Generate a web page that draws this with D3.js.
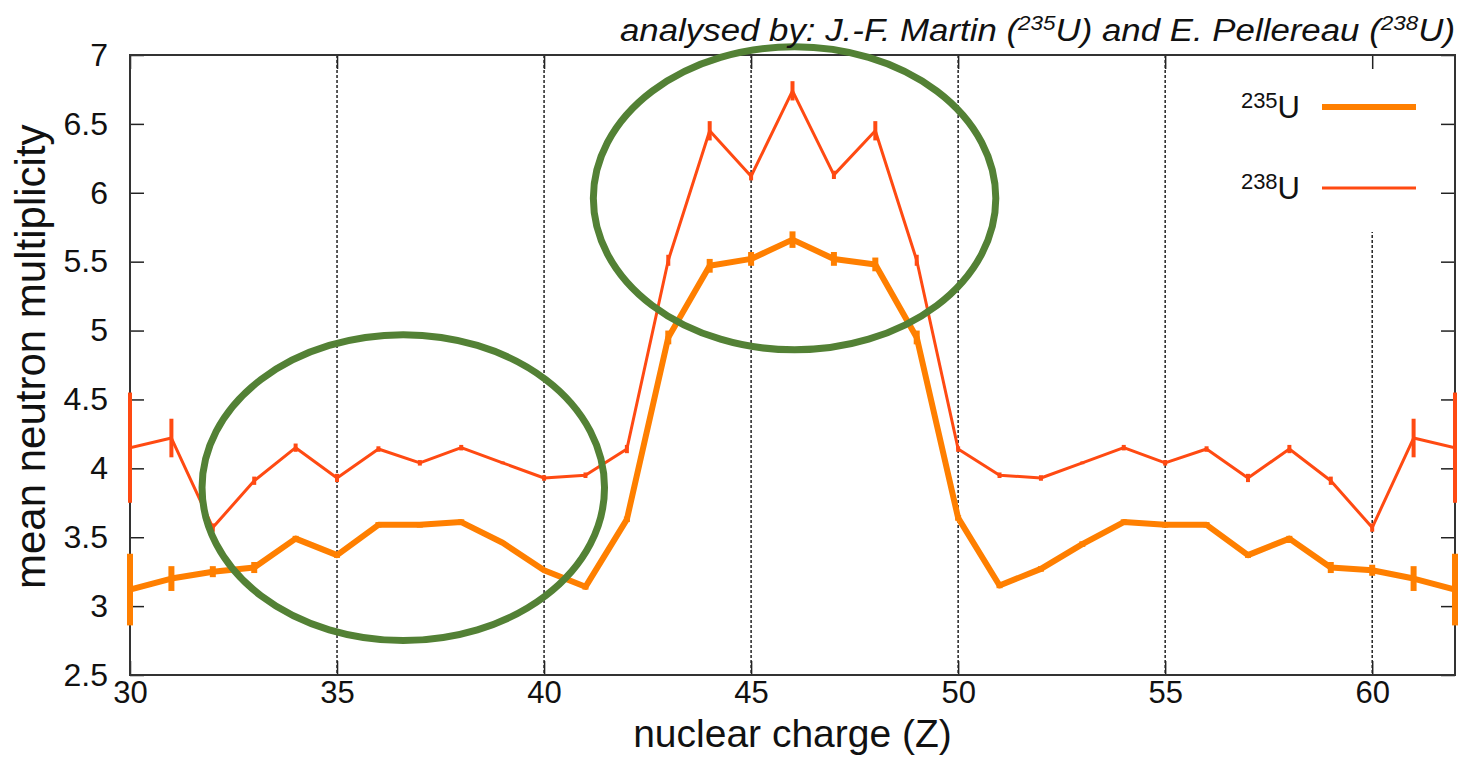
<!DOCTYPE html>
<html>
  <head>
    <title>Mean neutron multiplicity vs Z</title>
    <script src="https://d3js.org/d3.v7.min.js"></script>
    <style>
      body { margin: 0; background: #fff; }
      text { font-family: "Liberation Sans", Arial, sans-serif; fill: #111; }
    </style>
  </head>

  <body>
    <svg width="1462" height="757"></svg>

    <script type="text/javascript">
      // nuclear charge Z
      var charges = [30, 31, 32, 33, 34, 35, 36, 37, 38, 39, 40, 41, 42, 43, 44, 45, 46,
                     47, 48, 49, 50, 51, 52, 53, 54, 55, 56, 57, 58, 59, 60, 61, 62];

      // 235U (thick line)
      var u235 = [3.12, 3.20, 3.25, 3.28, 3.49, 3.37, 3.59, 3.59, 3.61, 3.46, 3.26, 3.14, 3.63,
                  4.95, 5.47, 5.52, 5.66, 5.52, 5.48, 4.95, 3.64, 3.15, 3.27, 3.45, 3.61, 3.59,
                  3.59, 3.37, 3.49, 3.28, 3.26, 3.20, 3.12];
      var u235err = [0.26, 0.09, 0.04, 0.04, 0.02, 0.02, 0.02, 0.02, 0.02, 0.01, 0.01, 0.02, 0.02,
                     0.05, 0.05, 0.05, 0.06, 0.05, 0.05, 0.05, 0.02, 0.02, 0.02, 0.02, 0.02, 0.02,
                     0.02, 0.02, 0.02, 0.04, 0.04, 0.09, 0.26];

      // 238U (thin line)
      var u238 = [4.15, 4.22, 3.57, 3.91, 4.15, 3.93, 4.14, 4.04, 4.15, 4.04, 3.93, 3.95, 4.14,
                  5.51, 6.45, 6.12, 6.74, 6.13, 6.45, 5.51, 4.14, 3.95, 3.93, 4.04, 4.15, 4.04,
                  4.14, 3.93, 4.14, 3.91, 3.57, 4.22, 4.15];
      var u238err = [0.40, 0.14, 0.03, 0.03, 0.03, 0.03, 0.02, 0.02, 0.02, 0.01, 0.02, 0.02, 0.03,
                     0.04, 0.07, 0.03, 0.07, 0.03, 0.07, 0.04, 0.02, 0.02, 0.02, 0.01, 0.02, 0.02,
                     0.02, 0.03, 0.03, 0.03, 0.03, 0.14, 0.40];

      var xTicks = [30, 35, 40, 45, 50, 55, 60];
      var yTicks = [2.5, 3, 3.5, 4, 4.5, 5, 5.5, 6, 6.5, 7];

      // green ellipses drawn on top (data units: centre Z, centre value, half-width, half-height)
      var ellipses = [
        { cz: 36.6, cv: 3.86, rz: 4.86, rv: 1.11 },
        { cz: 46.05, cv: 5.96, rz: 4.86, rv: 1.10 }
      ];

      var series = [
        { name: "235", values: u235, errors: u235err, color: "#ff7f00", width: 6, barWidth: 6 },
        { name: "238", values: u238, errors: u238err, color: "#ff4a12", width: 3, barWidth: 4 }
      ];

      var svg = d3.select("svg"),
        margin = { top: 55, right: 7, bottom: 82, left: 130 },
        width = +svg.attr("width") - margin.left - margin.right,
        height = +svg.attr("height") - margin.top - margin.bottom,
        g = svg.append("g")
          .attr("transform", "translate(" + margin.left + "," + margin.top + ")");

      var xScale = d3.scaleLinear().domain([30, 62]).range([0, width]);
      var yScale = d3.scaleLinear().domain([2.5, 7]).range([height, 0]);

      svg.append("defs").append("clipPath").attr("id", "plotclip")
        .append("rect").attr("width", width).attr("height", height);

      // vertical dotted grid
      g.append("g")
        .selectAll("line")
        .data(xTicks.slice(1))
        .enter()
        .append("line")
        .attr("x1", function (d) { return xScale(d); })
        .attr("x2", function (d) { return xScale(d); })
        .attr("y1", 0)
        .attr("y2", height)
        .attr("stroke", "#000")
        .attr("stroke-width", 1.3)
        .attr("stroke-dasharray", "3,2");

      // legend background hides the grid behind it
      g.append("rect")
        .attr("x", 1050)
        .attr("y", 1)
        .attr("width", 268)
        .attr("height", 176)
        .attr("fill", "#fff");

      // axes (ticks inside, mirrored)
      var axisBottom = g.append("g")
        .attr("transform", "translate(0," + height + ")")
        .call(d3.axisBottom(xScale).tickValues(xTicks).tickSizeInner(-14).tickSizeOuter(0).tickPadding(6));
      var axisTop = g.append("g")
        .call(d3.axisTop(xScale).tickValues(xTicks).tickSizeInner(-14).tickSizeOuter(0).tickFormat(""));
      var axisLeft = g.append("g")
        .call(d3.axisLeft(yScale).tickValues(yTicks).tickSizeInner(-14).tickSizeOuter(0).tickPadding(22)
          .tickFormat(d3.format("")));
      var axisRight = g.append("g")
        .attr("transform", "translate(" + width + ",0)")
        .call(d3.axisRight(yScale).tickValues(yTicks).tickSizeInner(-14).tickSizeOuter(0).tickFormat(""));

      [axisBottom, axisTop, axisLeft, axisRight].forEach(function (a) {
        a.select(".domain").remove();
        a.selectAll(".tick line").attr("stroke", "#222").attr("stroke-width", 1.5);
      });
      axisBottom.selectAll(".tick text")
        .attr("font-size", 31)
        .attr("fill", "#111")
        .attr("font-family", "Liberation Sans, Arial, sans-serif");
      axisLeft.selectAll(".tick text")
        .attr("font-size", 32)
        .attr("fill", "#111")
        .attr("font-family", "Liberation Sans, Arial, sans-serif");

      // frame
      g.append("rect")
        .attr("width", width)
        .attr("height", height)
        .attr("fill", "none")
        .attr("stroke", "#333")
        .attr("stroke-width", 2);

      // series lines and error bars
      var lineGenerator = d3.line()
        .x(function (d) { return xScale(d.z); })
        .y(function (d) { return yScale(d.v); });

      var plot = g.append("g");
      series.slice().reverse().forEach(function (s) {
        var pts = charges.map(function (z, i) { return { z: z, v: s.values[i], e: s.errors[i] }; });
        plot.append("path")
          .attr("clip-path", "url(#plotclip)")
          .attr("fill", "none")
          .attr("stroke", s.color)
          .attr("stroke-width", s.width)
          .attr("stroke-linejoin", "round")
          .attr("d", lineGenerator(pts));
        plot.append("g")
          .selectAll("line")
          .data(pts)
          .enter()
          .append("line")
          .attr("x1", function (d) { return xScale(d.z); })
          .attr("x2", function (d) { return xScale(d.z); })
          .attr("y1", function (d) { return yScale(d.v - d.e); })
          .attr("y2", function (d) { return yScale(d.v + d.e); })
          .attr("stroke", s.color)
          .attr("stroke-width", s.barWidth);
      });

      // legend
      var legend = g.append("g").attr("transform", "translate(1170,0)");
      series.forEach(function (s, i) {
        var ly = 52 + i * 81;
        var t = legend.append("text")
          .attr("x", 0)
          .attr("y", ly + 11)
          .attr("text-anchor", "end")
          .attr("font-size", 31);
        t.append("tspan").attr("font-size", 22).attr("dy", -10).text(s.name);
        t.append("tspan").attr("dy", 10).text("U");
        legend.append("line")
          .attr("x1", 22)
          .attr("x2", 116)
          .attr("y1", ly)
          .attr("y2", ly)
          .attr("stroke", s.color)
          .attr("stroke-width", s.width);
      });

      // axis labels
      svg.append("text")
        .attr("x", margin.left + xScale(46))
        .attr("y", 747)
        .attr("text-anchor", "middle")
        .attr("font-size", 39)
        .text("nuclear charge (Z)");

      svg.append("text")
        .attr("transform", "translate(45," + (margin.top + yScale(4.81)) + ") rotate(-90)")
        .attr("text-anchor", "middle")
        .attr("font-size", 42)
        .text("mean neutron multiplicity");

      // title
      var title = svg.append("text")
        .attr("x", 1455)
        .attr("y", 41)
        .attr("text-anchor", "end")
        .attr("font-size", 31)
        .attr("font-style", "italic")
        .attr("textLength", 835)
        .attr("lengthAdjust", "spacingAndGlyphs");
      title.append("tspan").text("analysed by: J.-F. Martin (");
      title.append("tspan").attr("font-size", 20).attr("dy", -11).text("235");
      title.append("tspan").attr("dy", 11).text("U) and E. Pellereau (");
      title.append("tspan").attr("font-size", 20).attr("dy", -11).text("238");
      title.append("tspan").attr("dy", 11).text("U)");

      // green annotation ellipses
      g.append("g")
        .selectAll("ellipse")
        .data(ellipses)
        .enter()
        .append("ellipse")
        .attr("cx", function (d) { return xScale(d.cz); })
        .attr("cy", function (d) { return yScale(d.cv); })
        .attr("rx", function (d) { return xScale(30 + d.rz); })
        .attr("ry", function (d) { return yScale(7 - d.rv); })
        .attr("fill", "none")
        .attr("stroke", "#538135")
        .attr("stroke-width", 7);
    </script>
  </body>
</html>
